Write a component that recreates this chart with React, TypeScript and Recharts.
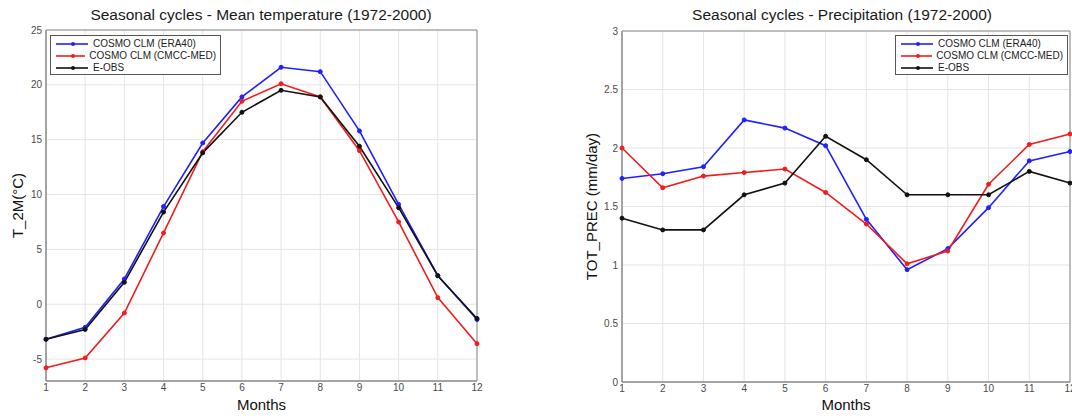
import React from "react";
import {
  LineChart,
  Line,
  XAxis,
  YAxis,
  CartesianGrid,
  Legend,
  ReferenceArea,
} from "recharts";

const MONTHS = [1, 2, 3, 4, 5, 6, 7, 8, 9, 10, 11, 12];

// temperature (°C)
const TEMP_ERA40 = [-3.2, -2.1, 2.3, 8.9, 14.7, 18.9, 21.6, 21.2, 15.8, 9.1, 2.6, -1.4];
const TEMP_CMCC = [-5.8, -4.9, -0.8, 6.5, 13.9, 18.5, 20.1, 18.9, 14.0, 7.5, 0.6, -3.6];
const TEMP_EOBS = [-3.2, -2.3, 2.0, 8.4, 13.8, 17.5, 19.5, 18.9, 14.4, 8.8, 2.6, -1.3];

// precipitation (mm/day)
const PREC_ERA40 = [1.74, 1.78, 1.84, 2.24, 2.17, 2.02, 1.39, 0.96, 1.14, 1.49, 1.89, 1.97];
const PREC_CMCC = [2.0, 1.66, 1.76, 1.79, 1.82, 1.62, 1.35, 1.01, 1.12, 1.69, 2.03, 2.12];
const PREC_EOBS = [1.4, 1.3, 1.3, 1.6, 1.7, 2.1, 1.9, 1.6, 1.6, 1.6, 1.8, 1.7];

const TEMP_TICKS = [-5, 0, 5, 10, 15, 20, 25];
const PREC_TICKS = [0, 0.5, 1, 1.5, 2, 2.5, 3];

const SERIES = [
  { key: "era40", name: "COSMO CLM (ERA40)", color: "#1f1fff" },
  { key: "cmcc", name: "COSMO CLM (CMCC-MED)", color: "#f21c1c" },
  { key: "eobs", name: "E-OBS", color: "#111111" },
];

const FONT = "'Liberation Sans', Arial, sans-serif";

const tempData = MONTHS.map((m, i) => ({
  m,
  era40: TEMP_ERA40[i],
  cmcc: TEMP_CMCC[i],
  eobs: TEMP_EOBS[i],
}));

const precData = MONTHS.map((m, i) => ({
  m,
  era40: PREC_ERA40[i],
  cmcc: PREC_CMCC[i],
  eobs: PREC_EOBS[i],
}));

const tickStyle = { fontSize: 10, fill: "#4a4a4a", fontFamily: FONT };

// keep the plot order (ERA40, CMCC-MED, E-OBS) instead of the sorted payload
function LegendBox({ payload }: any) {
  const items = SERIES.map((s) => (payload || []).find((p: any) => p.dataKey === s.key) || { value: s.name, color: s.color });
  return (
    <div
      style={{
        border: "1px solid #555",
        background: "#fff",
        padding: "2px 4px 2px 4px",
        fontFamily: FONT,
        fontSize: 10,
        color: "#222",
        lineHeight: "12px",
        whiteSpace: "nowrap",
        boxSizing: "border-box",
        height: 40,
      }}
    >
      {items.map((p: any) => (
        <div key={p.value} style={{ display: "flex", alignItems: "center", height: 12 }}>
          <svg width={34} height={10} style={{ marginRight: 4 }}>
            <line x1={1} y1={5} x2={33} y2={5} stroke={p.color} strokeWidth={1.6} />
            <circle cx={18} cy={5} r={2} fill={p.color} />
          </svg>
          <span>{p.value}</span>
        </div>
      ))}
    </div>
  );
}

function Panel({
  data,
  ticks,
  domain,
  yLabel,
  width,
  yWidth,
  right,
  top,
  xHeight,
  legendLeft,
  legendWidth,
  yLabelOffset,
}: any) {
  return (
    <LineChart
      width={width}
      height={416}
      data={data}
      margin={{ top, right, bottom: 0, left: 0 }}
    >
      <CartesianGrid stroke="#e4e4e4" strokeWidth={1} />
      <ReferenceArea
        x1={1}
        x2={12}
        y1={domain[0]}
        y2={domain[1]}
        fill="none"
        stroke="#8a8a8a"
        strokeOpacity={1}
        fillOpacity={0}
      />
      <XAxis
        dataKey="m"
        type="number"
        domain={[1, 12]}
        ticks={MONTHS}
        interval={0}
        height={xHeight}
        tick={tickStyle}
        tickSize={2}
        tickMargin={1}
        tickLine={false}
        axisLine={{ stroke: "#8a8a8a" }}
        label={{
          value: "Months",
          position: "insideBottom",
          offset: 6,
          style: { fontSize: 15, fill: "#111", fontFamily: FONT },
        }}
      />
      <YAxis
        type="number"
        domain={domain}
        ticks={ticks}
        width={yWidth}
        tick={tickStyle}
        tickSize={2}
        tickMargin={2}
        tickLine={false}
        axisLine={{ stroke: "#8a8a8a" }}
        allowDataOverflow
        label={{
          value: yLabel,
          angle: -90,
          position: "insideLeft",
          offset: yLabelOffset,
          style: { fontSize: 15, fill: "#111", fontFamily: FONT, textAnchor: "middle" },
        }}
      />
      <Legend
        layout="vertical"
        verticalAlign="middle"
        align="center"
        content={<LegendBox />}
        wrapperStyle={{ left: legendLeft, top: 35, width: legendWidth }}
      />
      {SERIES.map((s) => (
        <Line
          key={s.key}
          dataKey={s.key}
          name={s.name}
          stroke={s.color}
          strokeWidth={1.6}
          dot={{ r: 2, fill: s.color, stroke: s.color, strokeWidth: 1 }}
          activeDot={false}
          isAnimationActive={false}
        />
      ))}
    </LineChart>
  );
}

export default function App() {
  const titleStyle: React.CSSProperties = {
    position: "absolute",
    top: 6,
    fontFamily: FONT,
    fontSize: 15.5,
    color: "#1a1a1a",
    whiteSpace: "nowrap",
    transform: "translateX(-50%)",
    lineHeight: "18px",
  };
  return (
    <div
      style={{
        position: "absolute",
        left: 0,
        top: 0,
        width: 1072,
        height: 416,
        background: "#fff",
        overflow: "hidden",
      }}
    >
      <div style={{ position: "absolute", left: 0, top: 0 }}>
        <Panel
          data={tempData}
          ticks={TEMP_TICKS}
          domain={[-7, 25]}
          yLabel="T_2M(°C)"
          width={540}
          yWidth={46}
          right={63}
          top={30}
          xHeight={35}
          legendLeft={50}
          legendWidth={171}
          yLabelOffset={18}
        />
      </div>
      <div style={{ position: "absolute", left: 540, top: 0 }}>
        <Panel
          data={precData}
          ticks={PREC_TICKS}
          domain={[0, 3]}
          yLabel="TOT_PREC (mm/day)"
          width={532}
          yWidth={82}
          right={2}
          top={31}
          xHeight={34}
          legendLeft={355}
          legendWidth={173}
          yLabelOffset={52}
        />
      </div>
      <div style={{ ...titleStyle, left: 261 }}>
        Seasonal cycles - Mean temperature (1972-2000)
      </div>
      <div style={{ ...titleStyle, left: 842 }}>
        Seasonal cycles - Precipitation (1972-2000)
      </div>
    </div>
  );
}
